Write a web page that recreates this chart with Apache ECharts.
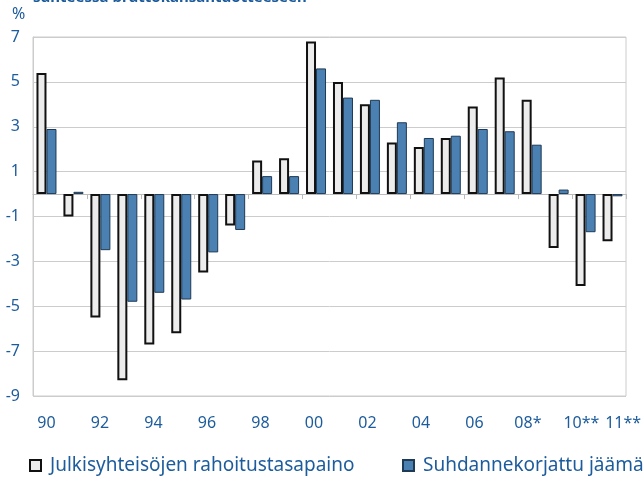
<!DOCTYPE html>
<html>
<head>
<meta charset="utf-8">
<script src="https://cdn.jsdelivr.net/npm/echarts@6/dist/echarts.min.js"></script>
<style>
  html, body { margin: 0; padding: 0; background: #fff; }
  #chart { width: 644px; height: 477px; }
</style>
</head>
<body>
<div id="chart"></div>
<script>
var years = ['90', '91', '92', '93', '94', '95', '96', '97', '98', '99', '00',
             '01', '02', '03', '04', '05', '06', '07', '08*', '09*', '10**', '11**'];
var rahoitustasapaino = [5.4, -1.0, -5.5, -8.3, -6.7, -6.2, -3.5, -1.4, 1.5, 1.6, 6.8,
                         5.0, 4.0, 2.3, 2.1, 2.5, 3.9, 5.2, 4.2, -2.4, -4.1, -2.1];
var suhdannekorjattu = [2.9, 0.1, -2.5, -4.8, -4.4, -4.7, -2.6, -1.6, 0.8, 0.8, 5.6,
                        4.3, 4.2, 3.2, 2.5, 2.6, 2.9, 2.8, 2.2, 0.2, -1.7, -0.1];
var yTicks = [-9, -7, -5, -3, -1, 1, 3, 5, 7];
var seriesNames = ['Julkisyhteisöjen rahoitustasapaino', 'Suhdannekorjattu jäämä'];

var textBlue = '#1d5c9c';
var font = 'Noto Sans';

var dom = document.getElementById('chart');
var myChart = echarts.init(dom, null, { renderer: 'canvas' });

var gridBox = { left: 33, right: 18, top: 37, bottom: 81 };

function legendAt(left, name) {
    return {
        left: left,
        top: 451,
        width: 400,
        itemWidth: 11,
        itemHeight: 11,
        icon: 'rect',
        textStyle: { color: textBlue, fontSize: 19, fontFamily: font, padding: [0, 0, 0, 4] },
        data: [name]
    };
}

var option = {
    animation: false,
    textStyle: { fontFamily: font },
    grid: [
        Object.assign({ show: true, borderColor: '#cccccc', borderWidth: 1 }, gridBox),
        Object.assign({}, gridBox)
    ],
    graphic: [
        {
            type: 'text',
            left: 33,
            top: -10,
            style: {
                text: 'suhteessa bruttokansantuotteeseen',
                fill: textBlue,
                font: 'bold 15px "Noto Sans"'
            }
        },
        {
            type: 'text',
            left: 12,
            top: 6,
            style: { text: '%', fill: textBlue, font: '16px "Noto Sans"' }
        }
    ],
    legend: [legendAt(24, seriesNames[0]), legendAt(397, seriesNames[1])],
    xAxis: [
        {
            type: 'category',
            gridIndex: 0,
            data: years,
            axisLine: { onZero: true, lineStyle: { color: '#bbbbbb', width: 1 } },
            axisTick: { show: true, length: 5, lineStyle: { color: '#bbbbbb' } },
            axisLabel: { show: false },
            splitLine: { show: false }
        },
        {
            type: 'category',
            gridIndex: 1,
            data: years,
            axisLine: { show: false },
            axisTick: { show: false },
            axisLabel: {
                color: textBlue,
                fontSize: 16,
                fontFamily: font,
                margin: 19,
                interval: function (i) { return i % 2 === 0 || i === 21; },
                formatter: function (v, i) { return i === 21 ? '{r|' + v + '}' : v; },
                rich: { r: { color: textBlue, fontSize: 16, fontFamily: font, padding: [0, 0, 0, 30] } }
            }
        }
    ],
    yAxis: [
        {
            type: 'value',
            gridIndex: 0,
            min: -9,
            max: 7,
            axisLine: { show: true, lineStyle: { color: '#cccccc' } },
            axisTick: { show: false, customValues: yTicks },
            axisLabel: { color: textBlue, fontSize: 16, fontFamily: font, margin: 13, customValues: yTicks },
            splitLine: { show: true, customValues: yTicks, lineStyle: { color: '#cccccc', width: 1 } }
        },
        {
            type: 'value',
            gridIndex: 1,
            min: -9,
            max: 7,
            show: false
        }
    ],
    series: [
        {
            name: seriesNames[0],
            type: 'bar',
            data: rahoitustasapaino,
            barWidth: 10,
            barGap: '0%',
            itemStyle: { color: '#ececec', borderColor: '#111111', borderWidth: 2 }
        },
        {
            name: seriesNames[1],
            type: 'bar',
            data: suhdannekorjattu,
            barWidth: 10,
            barGap: '0%',
            itemStyle: { color: '#4a80b2', borderColor: '#1f3a55', borderWidth: 1 }
        }
    ]
};

myChart.setOption(option);
</script>
</body>
</html>
